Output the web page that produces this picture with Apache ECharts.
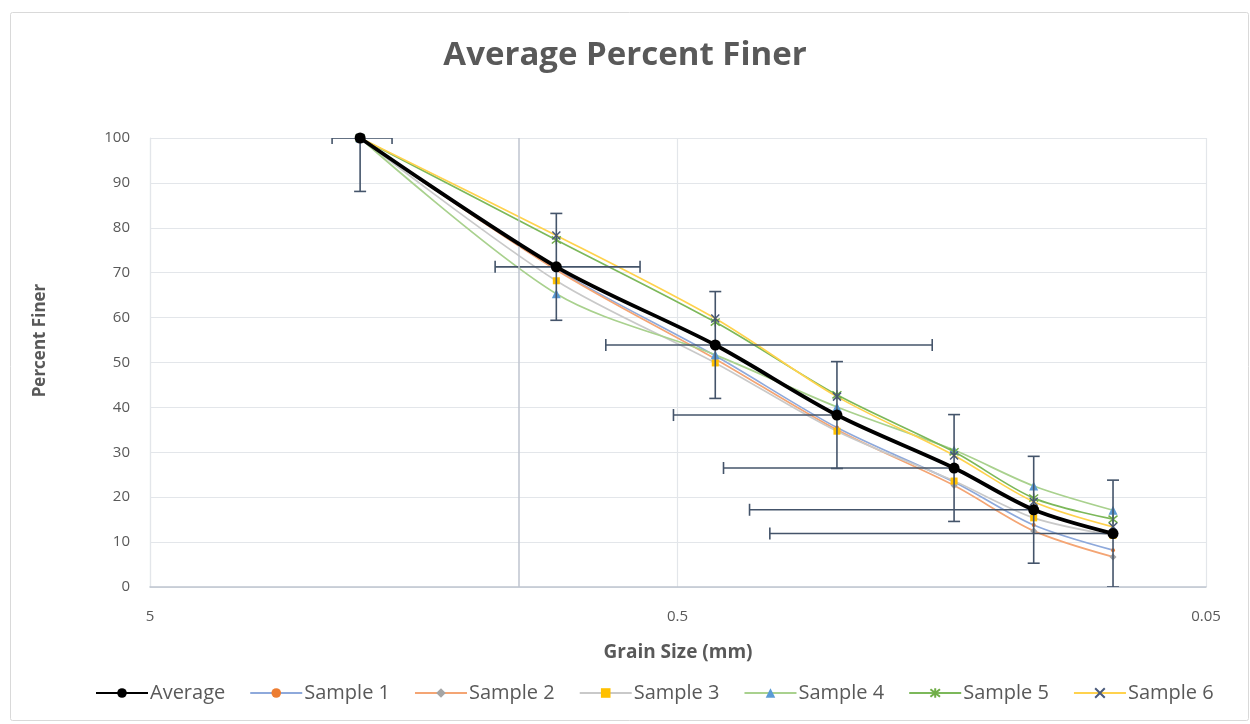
<!DOCTYPE html>
<html>
<head>
<meta charset="utf-8">
<script src="https://cdn.jsdelivr.net/npm/echarts@6/dist/echarts.min.js"></script>
<style>
html,body{margin:0;padding:0;background:#fff;}
#chart{width:1250px;height:724px;}
</style>
</head>
<body>
<div id="chart"></div>
<script>
// ---- data ----
const grainSizes = [2.0, 0.85, 0.425, 0.25, 0.15, 0.106, 0.075];
const average = [100, 71.3, 53.9, 38.3, 26.5, 17.2, 11.9];
const sample1 = [100, 70.8, 51.5, 35.5, 23.4, 13.8, 8.2];
const sample2 = [100, 70.6, 50.8, 35.0, 22.6, 12.5, 6.7];
const sample3 = [100, 68.2, 49.9, 34.7, 23.6, 15.4, 11.5];
const sample4 = [100, 65.3, 51.7, 40.1, 30.5, 22.5, 17.1];
const sample5 = [100, 77.3, 59.0, 42.8, 30.1, 19.8, 15.1];
const sample6 = [100, 78.3, 59.8, 42.4, 29.3, 19.0, 13.4];
const xError = 0.26;   // mm
const yError = 11.9;   // percent
const seriesNames = ['Average', 'Sample 1', 'Sample 2', 'Sample 3', 'Sample 4', 'Sample 5', 'Sample 6'];

const pair = arr => grainSizes.map((g, i) => [g, arr[i]]);

const FONT = "'Open Sans', 'Noto Sans', sans-serif";
const TXT = '#595959';
const asterisk = 'path://M5,0 L5,10 M1,1 L9,9 M9,1 L1,9';
const cross = 'path://M0,0 L10,10 M10,0 L0,10';

function sampleSeries(name, data, lineColor, symbol, size, itemStyle) {
  return {
    name, type: 'line', data: pair(data), smooth: 0.3,
    symbol, symbolSize: size,
    lineStyle: { color: lineColor, width: 1.7 },
    itemStyle,
    z: 3
  };
}

const chart = echarts.init(document.getElementById('chart'), null, { renderer: 'canvas' });
chart.setOption({
  backgroundColor: '#fff',
  animation: false,
  graphic: [{
    type: 'rect', left: 8, top: 10, shape: { width: 1238, height: 708, r: 2 },
    style: { fill: 'none', stroke: '#D9D9D9', lineWidth: 1 }, silent: true
  }],
  title: {
    text: 'Average Percent Finer', left: 'center', top: 34,
    textStyle: { fontFamily: FONT, fontSize: 33, fontWeight: 'bold', color: TXT }
  },
  legend: {
    bottom: 16, left: 90,
    data: seriesNames,
    itemWidth: 52, itemHeight: 12, itemGap: 24,
    textStyle: { fontFamily: FONT, fontSize: 20, color: TXT, padding: [0, 0, 0, -3] }
  },
  grid: { left: 150, right: 44, top: 138, bottom: 137, containLabel: false },
  xAxis: {
    type: 'log', logBase: 10, min: 0.05, max: 5, interval: 1, inverse: true,
    name: 'Grain Size (mm)', nameLocation: 'middle', nameGap: 56,
    nameTextStyle: { fontFamily: FONT, fontSize: 19, fontWeight: 'bold', color: TXT },
    axisLine: { show: true, lineStyle: { color: '#BFC5CF', width: 1.5 } },
    axisTick: { show: false },
    minorTick: { show: false },
    axisLabel: {
      fontFamily: FONT, fontSize: 15, color: TXT, margin: 22,
      formatter: v => String(parseFloat(Number(v).toPrecision(1)))
    },
    splitLine: { show: true, lineStyle: { color: '#E3E6EA', width: 1.2 } }
  },
  yAxis: {
    type: 'value', min: 0, max: 100, interval: 10,
    name: 'Percent Finer', nameLocation: 'middle', nameGap: 101,
    nameTextStyle: { fontFamily: FONT, fontSize: 17, fontWeight: 'bold', color: TXT, padding: [0, 0, 0, 44] },
    axisLine: { show: true, lineStyle: { color: '#E3E6EA', width: 1.2 } },
    axisTick: { show: false },
    axisLabel: { fontFamily: FONT, fontSize: 15, color: TXT, margin: 20 },
    splitLine: { show: true, lineStyle: { color: '#E3E6EA', width: 1.2 } }
  },
  series: [
    sampleSeries('Sample 1', sample1, '#8EA9DB', 'circle', 4, { color: '#ED7D31' }),
    sampleSeries('Sample 2', sample2, '#F4A574', 'diamond', 7, { color: '#A5A5A5' }),
    sampleSeries('Sample 3', sample3, '#C9C9C9', 'rect', 7, { color: '#FFC000' }),
    sampleSeries('Sample 4', sample4, '#A9D18E', 'triangle', 9, { color: '#5B9BD5' }),
    sampleSeries('Sample 5', sample5, '#7CB85A', asterisk, 9, { color: 'none', borderColor: '#70AD47', borderWidth: 1.5 }),
    sampleSeries('Sample 6', sample6, '#FFD24D', cross, 8, { color: 'none', borderColor: '#4A5A7A', borderWidth: 1.5 }),
    {
      name: 'errorbars', type: 'custom', data: pair(average), clip: true, z: 4,
      silent: true,
      renderItem(params, api) {
        const x = api.value(0), y = api.value(1);
        const c = api.coord([x, y]);
        const cap = 6;
        const style = { stroke: '#44546A', lineWidth: 1.6, fill: 'none' };
        const children = [];
        const yTopV = Math.min(y + yError, 100), yBotV = Math.max(y - yError, 0);
        const pt = api.coord([x, yTopV]), pb = api.coord([x, yBotV]);
        children.push({ type: 'line', shape: { x1: c[0], y1: pt[1], x2: c[0], y2: pb[1] }, style });
        if (y + yError <= 100) children.push({ type: 'line', shape: { x1: c[0] - cap, y1: pt[1], x2: c[0] + cap, y2: pt[1] }, style });
        if (y - yError >= 0) children.push({ type: 'line', shape: { x1: c[0] - cap, y1: pb[1], x2: c[0] + cap, y2: pb[1] }, style });
        // horizontal (axis inverted: larger size to the left)
        const big = x + xError, small = x - xError;
        const pl = api.coord([Math.min(big, 5), y]);
        children.push({ type: 'line', shape: { x1: pl[0], y1: c[1], x2: c[0], y2: c[1] }, style });
        if (big <= 5) children.push({ type: 'line', shape: { x1: pl[0], y1: c[1] - cap, x2: pl[0], y2: c[1] + cap }, style });
        if (small > 0) {
          const pr = api.coord([Math.max(small, 0.05), y]);
          children.push({ type: 'line', shape: { x1: c[0], y1: c[1], x2: pr[0], y2: c[1] }, style });
          if (small >= 0.05) children.push({ type: 'line', shape: { x1: pr[0], y1: c[1] - cap, x2: pr[0], y2: c[1] + cap }, style });
        }
        return { type: 'group', children };
      }
    },
    {
      name: 'Average', type: 'line', data: pair(average), smooth: 0.3,
      symbol: 'circle', symbolSize: 11,
      lineStyle: { color: '#000', width: 3.8 },
      itemStyle: { color: '#000' },
      z: 5,
      markLine: {
        silent: true, symbol: 'none', label: { show: false },
        lineStyle: { color: '#BFC5CF', width: 1.5, type: 'solid' },
        data: [{ xAxis: 1 }]
      }
    }
  ]
});
</script>
</body>
</html>
